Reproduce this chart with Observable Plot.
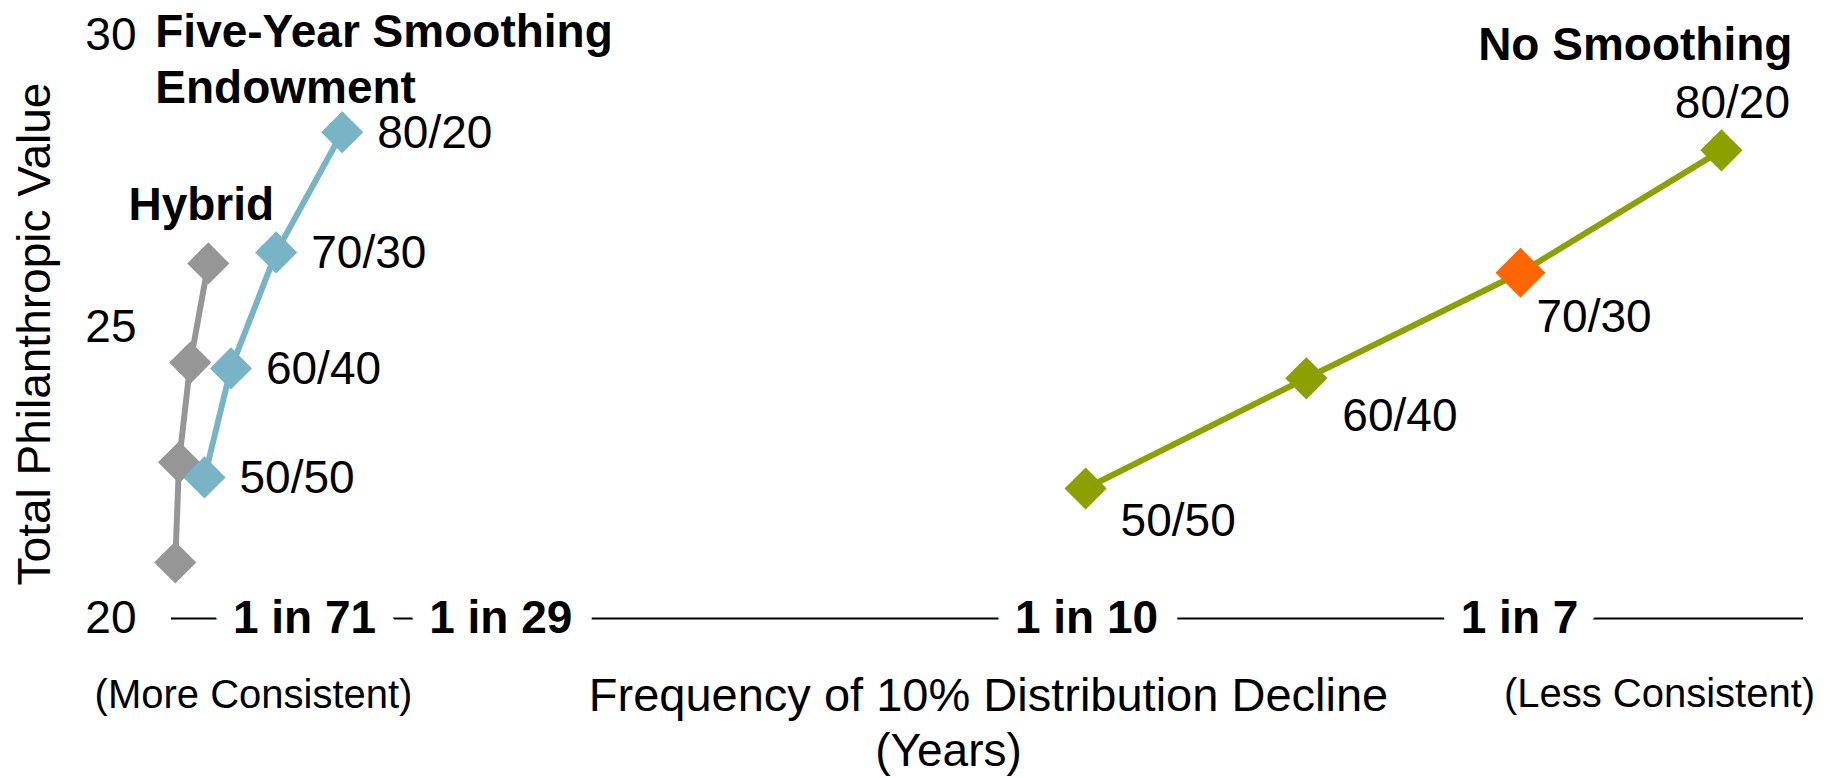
<!DOCTYPE html>
<html>
<head>
<meta charset="utf-8">
<script src="https://cdn.jsdelivr.net/npm/d3@7"></script>
<script src="https://cdn.jsdelivr.net/npm/@observablehq/plot@0.6"></script>
<style>
  html, body { margin: 0; padding: 0; background: #fff; }
  #chart svg { display: block; }
</style>
</head>
<body>
<div id="chart"></div>
<script>
// ---- Data ----
const allocations = ["50/50", "60/40", "70/30", "80/20"];

// x: frequency of a 10% distribution decline (% of years), y: total philanthropic value
const hybridX    = [0.04, 0.08, 0.20, 0.39];
const hybridY    = [20.96, 22.68, 24.39, 26.09];
const fiveYearX  = [0.35, 0.63, 1.11, 1.81];
const fiveYearY  = [22.42, 24.29, 26.28, 28.34];
const noSmoothX  = [9.69, 12.03, 14.30, 16.43];
const noSmoothY  = [22.23, 24.12, 25.93, 28.03];

const seriesNames  = ["Hybrid", "Five-Year Smoothing Endowment", "No Smoothing"];
const seriesColors = ["#969696", "#79B4C6", "#8CA000"];

const tickValues = [1.41, 3.49, 9.70, 14.29];
const tickLabels = ["1 in 71", "1 in 29", "1 in 10", "1 in 7"];
const yTicks = [20, 25, 30];

const highlightSeries = "No Smoothing";
const highlightAlloc = "70/30";

// ---- Build table ----
const seriesX = [hybridX, fiveYearX, noSmoothX];
const seriesY = [hybridY, fiveYearY, noSmoothY];
const rows = [];
seriesNames.forEach((s, i) => {
  allocations.forEach((a, j) => {
    rows.push({series: s, alloc: a, x: seriesX[i][j], y: seriesY[i][j]});
  });
});
const ticks = tickValues.map((v, i) => ({x: v, y: 20, label: tickLabels[i]}));

const hybrid = rows.filter(d => d.series === seriesNames[0]);
const fiveYear = rows.filter(d => d.series === seriesNames[1]);
const noSmooth = rows.filter(d => d.series === seriesNames[2]);
const pick = (arr, a) => arr.filter(d => d.alloc === a);

const FONT = "'Liberation Sans', Arial, Helvetica, sans-serif";

const chart = Plot.plot({
  width: 1830,
  height: 778,
  marginLeft: 171,
  marginRight: 27,
  marginTop: 35,
  marginBottom: 160,
  style: {fontFamily: FONT, fontSize: "46px", color: "#000", background: "#fff", overflow: "visible"},
  x: {domain: [0, 17.3], axis: null},
  y: {domain: [20, 30], axis: null},
  color: {domain: seriesNames, range: seriesColors},
  marks: [
    // y axis
    Plot.axisY({ticks: yTicks, tickSize: 0, tickPadding: 35, fontSize: 46, label: null, anchor: "left"}),
    Plot.text(["Total Philanthropic Value"], {
      frameAnchor: "left", rotate: -90, textAnchor: "middle", lineAnchor: "middle",
      dx: -136, dy: 7, fontSize: 46
    }),
    // x axis baseline with knocked-out labels
    Plot.ruleY([20], {stroke: "#000", strokeWidth: 2}),
    Plot.text(ticks, {
      x: "x", y: "y", text: "label", fontWeight: "bold", fontSize: 46,
      fill: "#000", stroke: "#fff", strokeWidth: 42, strokeLinejoin: "round", lineAnchor: "middle"
    }),
    // x axis titles
    Plot.text(["Frequency of 10% Distribution Decline"], {frameAnchor: "bottom", dx: 1, dy: 77, fontSize: 47, lineAnchor: "middle"}),
    Plot.text(["(Years)"], {frameAnchor: "bottom", dx: -39, dy: 133, fontSize: 46, lineAnchor: "middle"}),
    Plot.text(["(More Consistent)"], {frameAnchor: "bottom-left", textAnchor: "middle", dx: 82, dy: 77, fontSize: 40, lineAnchor: "middle"}),
    Plot.text(["(Less Consistent)"], {frameAnchor: "bottom-right", textAnchor: "middle", dx: -144, dy: 76, fontSize: 40, lineAnchor: "middle"}),
    // series lines
    Plot.line(rows, {x: "x", y: "y", z: "series", stroke: "series", strokeWidth: 6}),
    // diamond markers
    Plot.dot(rows, {x: "x", y: "y", fill: "series", symbol: "diamond2", r: 19}),
    Plot.dot(rows.filter(d => d.series === highlightSeries && d.alloc === highlightAlloc),
      {x: "x", y: "y", fill: "#FF6600", symbol: "diamond2", r: 22.5}),
    // allocation labels: five-year smoothing
    Plot.text(fiveYear, {x: "x", y: "y", text: "alloc", textAnchor: "start", dx: 35, dy: 1, fontSize: 46, lineAnchor: "middle"}),
    // allocation labels: no smoothing
    Plot.text(pick(noSmooth, "50/50"), {x: "x", y: "y", text: "alloc", textAnchor: "start", dx: 35, dy: 33, fontSize: 46, lineAnchor: "middle"}),
    Plot.text(pick(noSmooth, "60/40"), {x: "x", y: "y", text: "alloc", textAnchor: "start", dx: 36, dy: 38, fontSize: 46, lineAnchor: "middle"}),
    Plot.text(pick(noSmooth, "70/30"), {x: "x", y: "y", text: "alloc", textAnchor: "start", dx: 16, dy: 44, fontSize: 46, lineAnchor: "middle"}),
    Plot.text(pick(noSmooth, "80/20"), {x: "x", y: "y", text: "alloc", textAnchor: "middle", dx: 11, dy: -47, fontSize: 46, lineAnchor: "middle"}),
    // series titles
    Plot.text(pick(fiveYear, "80/20"), {x: "x", y: "y", text: () => "Five-Year Smoothing\nEndowment",
      textAnchor: "start", dx: -187, dy: -75, fontWeight: "bold", fontSize: 46, lineHeight: 1.2, lineAnchor: "middle"}),
    Plot.text(pick(hybrid, "80/20"), {x: "x", y: "y", text: () => "Hybrid",
      textAnchor: "middle", dx: -7, dy: -58, fontWeight: "bold", fontSize: 46, lineAnchor: "middle"}),
    Plot.text(pick(noSmooth, "80/20"), {x: "x", y: "y", text: () => "No Smoothing",
      textAnchor: "end", dx: 71, dy: -105, fontWeight: "bold", fontSize: 46, lineAnchor: "middle"})
  ]
});

document.getElementById("chart").appendChild(chart);
</script>
</body>
</html>
